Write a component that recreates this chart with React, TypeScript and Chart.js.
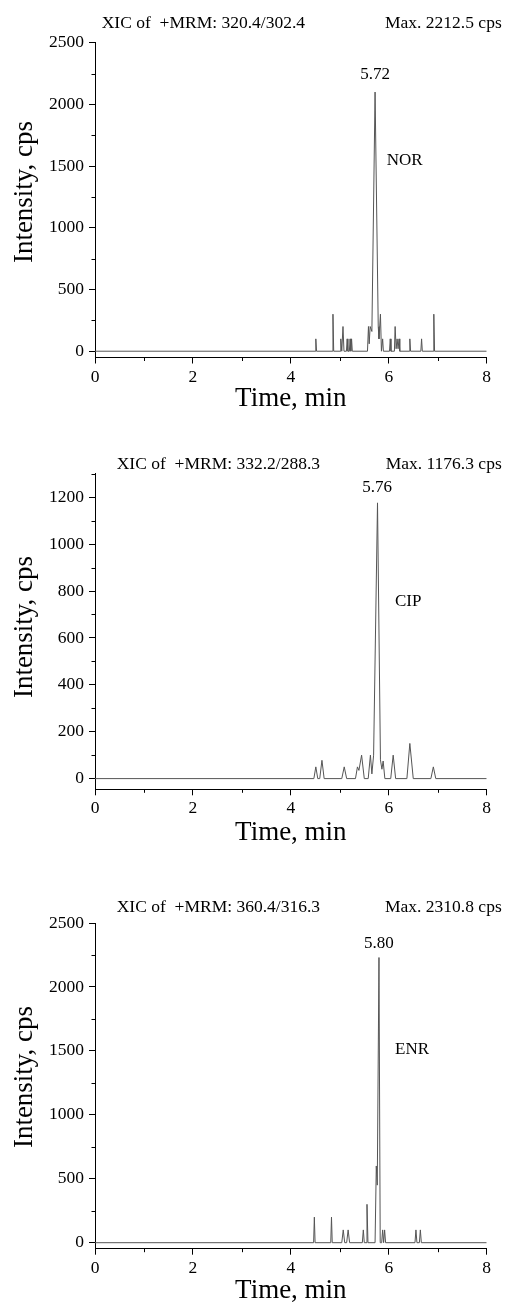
import React, { useEffect, useRef } from "react";
import { Chart, registerables } from "chart.js";

Chart.register(...registerables);

// ---------- DATA ----------
const xMajorTicks = [0, 2, 4, 6, 8];
const xMinorTicks = [1, 3, 5, 7];

// NOR  (XIC of +MRM 320.4/302.4)
const norTime = [0, 4.495, 4.51, 4.525, 4.845, 4.86, 4.875, 5.005, 5.02, 5.04, 5.065, 5.085, 5.135, 5.15, 5.165, 5.195, 5.21, 5.225, 5.24, 5.255, 5.565, 5.585, 5.6, 5.62, 5.655, 5.72, 5.785, 5.8, 5.83, 5.85, 5.875, 5.89, 6.015, 6.03, 6.045, 6.115, 6.13, 6.15, 6.17, 6.19, 6.21, 6.225, 6.415, 6.43, 6.445, 6.655, 6.67, 6.685, 6.905, 6.92, 6.935, 8];
const norIntensity = [0, 0, 100, 0, 0, 300, 0, 0, 100, 0, 200, 0, 0, 100, 0, 0, 100, 0, 100, 0, 0, 200, 60, 200, 160, 2100, 200, 100, 300, 0, 100, 0, 0, 100, 0, 0, 200, 20, 100, 20, 100, 0, 0, 100, 0, 0, 100, 0, 0, 300, 0, 0];
const norYTicks = [0, 500, 1000, 1500, 2000, 2500];
const norYMinor = [250, 750, 1250, 1750, 2250];

// CIP  (XIC of +MRM 332.2/288.3)
const cipTime = [0, 4.47, 4.51, 4.55, 4.59, 4.635, 4.68, 5.04, 5.09, 5.14, 5.32, 5.36, 5.39, 5.445, 5.5, 5.58, 5.625, 5.655, 5.69, 5.77, 5.83, 5.86, 5.885, 5.92, 6.04, 6.09, 6.14, 6.37, 6.43, 6.5, 6.86, 6.91, 6.96, 8];
const cipIntensity = [0, 0, 50, 0, 0, 78, 0, 0, 50, 0, 0, 50, 35, 100, 0, 0, 100, 20, 100, 1176, 80, 40, 75, 0, 0, 100, 0, 0, 150, 0, 0, 50, 0, 0];
const cipYTicks = [0, 200, 400, 600, 800, 1000, 1200];
const cipYMinor = [100, 300, 500, 700, 900, 1100, 1300];

// ENR  (XIC of +MRM 360.4/316.3)
const enrTime = [0, 4.465, 4.48, 4.495, 4.815, 4.83, 4.845, 5.04, 5.07, 5.1, 5.14, 5.17, 5.2, 5.46, 5.48, 5.5, 5.535, 5.555, 5.575, 5.72, 5.745, 5.765, 5.8, 5.825, 5.855, 5.875, 5.895, 5.915, 5.935, 6.535, 6.555, 6.575, 6.625, 6.645, 6.665, 8];
const enrIntensity = [0, 0, 200, 0, 0, 200, 0, 0, 100, 0, 0, 100, 0, 0, 100, 0, 0, 300, 0, 0, 600, 450, 2230, 0, 0, 100, 0, 100, 0, 0, 100, 0, 0, 100, 0, 0];
const enrYTicks = [0, 500, 1000, 1500, 2000, 2500];
const enrYMinor = [250, 750, 1250, 1750, 2250];

const headerLeft = ["XIC of  +MRM: 320.4/302.4", "XIC of  +MRM: 332.2/288.3", "XIC of  +MRM: 360.4/316.3"];
const headerRight = ["Max. 2212.5 cps", "Max. 1176.3 cps", "Max. 2310.8 cps"];
const rtLabels = ["5.72", "5.76", "5.80"];
const rtValues = [5.72, 5.76, 5.8];
const compoundNames = ["NOR", "CIP", "ENR"];
const xAxisTitle = "Time, min";
const yAxisTitle = "Intensity, cps";

// ---------- LAYOUT / STYLE ----------
const FONT = "'Liberation Serif', 'Times New Roman', serif";

type Panel = {
  time: number[];
  intensity: number[];
  yTicks: number[];
  yMinor: number[];
  yMin: number;
  yMax: number;
  top: number;
  height: number;
  chartTop: number;
  chartBottom: number;
  headerLeftX: number;
  headerBaseline: number;
  rtBaseline: number;
  nameX: number;
  nameBaseline: number;
  xTitlePad: number;
  yTitleCenter: number;
};

const panels: Panel[] = [
  {
    time: norTime, intensity: norIntensity, yTicks: norYTicks, yMinor: norYMinor,
    yMin: -51, yMax: 2500, top: 0, height: 430, chartTop: 42.7, chartBottom: 357.5,
    headerLeftX: 101.7, headerBaseline: 27.5, rtBaseline: 78.5, nameX: 386.7, nameBaseline: 165, xTitlePad: 17.5,
    yTitleCenter: 192,
  },
  {
    time: cipTime, intensity: cipIntensity, yTicks: cipYTicks, yMinor: cipYMinor,
    yMin: -45.6, yMax: 1300, top: 430, height: 430, chartTop: 473.8, chartBottom: 789.3,
    headerLeftX: 116.7, headerBaseline: 469, rtBaseline: 492, nameX: 395, nameBaseline: 606, xTitlePad: 13.5,
    yTitleCenter: 627,
  },
  {
    time: enrTime, intensity: enrIntensity, yTicks: enrYTicks, yMinor: enrYMinor,
    yMin: -46.9, yMax: 2500, top: 860, height: 444, chartTop: 923, chartBottom: 1248.7,
    headerLeftX: 116.7, headerBaseline: 912, rtBaseline: 948, nameX: 395, nameBaseline: 1054, xTitlePad: 0,
    yTitleCenter: 1077,
  },
];

const CHART_LEFT = 95;
const CHART_RIGHT = 486.7;
const CANVAS_W = 505;
const Y_TITLE_X = 25;

function makeConfig(p: Panel, idx: number): any {
  const points = p.time.map((t, i) => ({ x: t, y: p.intensity[i] }));
  const tickFont = { family: FONT, size: 17.5 };
  const titleFont = { family: FONT, size: 27, lineHeight: 1 };

  const decor = {
    id: "decor" + idx,
    afterDraw(chart: any) {
      const ctx = chart.ctx;
      const xs = chart.scales.x;
      const ys = chart.scales.y;
      const area = chart.chartArea;
      ctx.save();
      // minor ticks
      ctx.strokeStyle = "#000";
      ctx.lineWidth = 1;
      ctx.beginPath();
      xMinorTicks.forEach((v) => {
        const px = Math.round(xs.getPixelForValue(v)) + 0.5;
        ctx.moveTo(px, area.bottom);
        ctx.lineTo(px, area.bottom + 3.5);
      });
      p.yMinor.forEach((v) => {
        const py = Math.round(ys.getPixelForValue(v)) + 0.5;
        ctx.moveTo(area.left, py);
        ctx.lineTo(area.left - 3.5, py);
      });
      ctx.stroke();
      ctx.fillStyle = "#000";
      // y axis title
      ctx.save();
      ctx.translate(Y_TITLE_X, p.yTitleCenter - p.top);
      ctx.rotate(-Math.PI / 2);
      ctx.font = `27px ${FONT}`;
      ctx.textAlign = "center";
      ctx.textBaseline = "middle";
      ctx.fillText(yAxisTitle, 0, 0);
      ctx.restore();
      // header
      ctx.textBaseline = "alphabetic";
      ctx.font = `17.5px ${FONT}`;
      ctx.textAlign = "left";
      ctx.fillText(headerLeft[idx], p.headerLeftX, p.headerBaseline - p.top);
      ctx.textAlign = "right";
      ctx.fillText(headerRight[idx], 501.7, p.headerBaseline - p.top);
      // annotations
      ctx.font = `17px ${FONT}`;
      ctx.textAlign = "center";
      ctx.fillText(rtLabels[idx], xs.getPixelForValue(rtValues[idx]), p.rtBaseline - p.top);
      ctx.textAlign = "left";
      ctx.fillText(compoundNames[idx], p.nameX, p.nameBaseline - p.top);
      ctx.restore();
    },
  };

  return {
    type: "line",
    data: {
      datasets: [
        {
          data: points,
          borderColor: "#555",
          borderWidth: 1,
          pointRadius: 0,
          tension: 0,
          fill: false,
        },
      ],
    },
    options: {
      animation: false,
      responsive: false,
      maintainAspectRatio: false,
      events: [],
      layout: {
        padding: { top: p.chartTop - p.top, right: CANVAS_W - CHART_RIGHT, bottom: 0, left: 0 },
      },
      plugins: { legend: { display: false }, tooltip: { enabled: false }, title: { display: false } },
      scales: {
        x: {
          type: "linear",
          min: 0,
          max: 8,
          afterBuildTicks: (s: any) => {
            s.ticks = xMajorTicks.map((v) => ({ value: v }));
          },
          afterFit: (s: any) => {
            s.height = p.top + p.height - p.chartBottom;
          },
          ticks: {
            font: tickFont,
            color: "#000",
            padding: 3,
            maxRotation: 0,
            autoSkip: false,
            callback: (v: any) => String(v),
          },
          grid: { display: true, drawOnChartArea: false, drawTicks: true, tickLength: 6, color: "#000", lineWidth: 1 },
          border: { display: true, color: "#000", width: 1 },
          title: { display: true, text: xAxisTitle, color: "#000", font: titleFont, padding: { top: 0, bottom: p.xTitlePad } },
        },
        y: {
          type: "linear",
          min: p.yMin,
          max: p.yMax,
          afterBuildTicks: (s: any) => {
            s.ticks = p.yTicks.map((v) => ({ value: v }));
          },
          afterFit: (s: any) => {
            s.width = CHART_LEFT;
          },
          ticks: {
            font: tickFont,
            color: "#000",
            padding: 5,
            autoSkip: false,
            callback: (v: any) => String(v),
          },
          grid: { display: true, drawOnChartArea: false, drawTicks: true, tickLength: 6, color: "#000", lineWidth: 1 },
          border: { display: true, color: "#000", width: 1 },
          title: { display: false, text: yAxisTitle },
        },
      },
    },
    plugins: [decor],
  };
}

function PanelChart({ p, idx }: { p: Panel; idx: number }) {
  const ref = useRef<HTMLCanvasElement | null>(null);
  useEffect(() => {
    if (!ref.current) return;
    const chart = new Chart(ref.current, makeConfig(p, idx));
    return () => chart.destroy();
  }, [p, idx]);
  return (
    <canvas
      ref={ref}
      width={CANVAS_W}
      height={p.height}
      style={{ position: "absolute", left: 0, top: p.top, width: CANVAS_W, height: p.height, display: "block" }}
    />
  );
}

export default function App() {
  return (
    <div style={{ position: "absolute", left: 0, top: 0, width: CANVAS_W, height: 1304, background: "#fff" }}>
      {panels.map((p, i) => (
        <PanelChart key={i} p={p} idx={i} />
      ))}
    </div>
  );
}
